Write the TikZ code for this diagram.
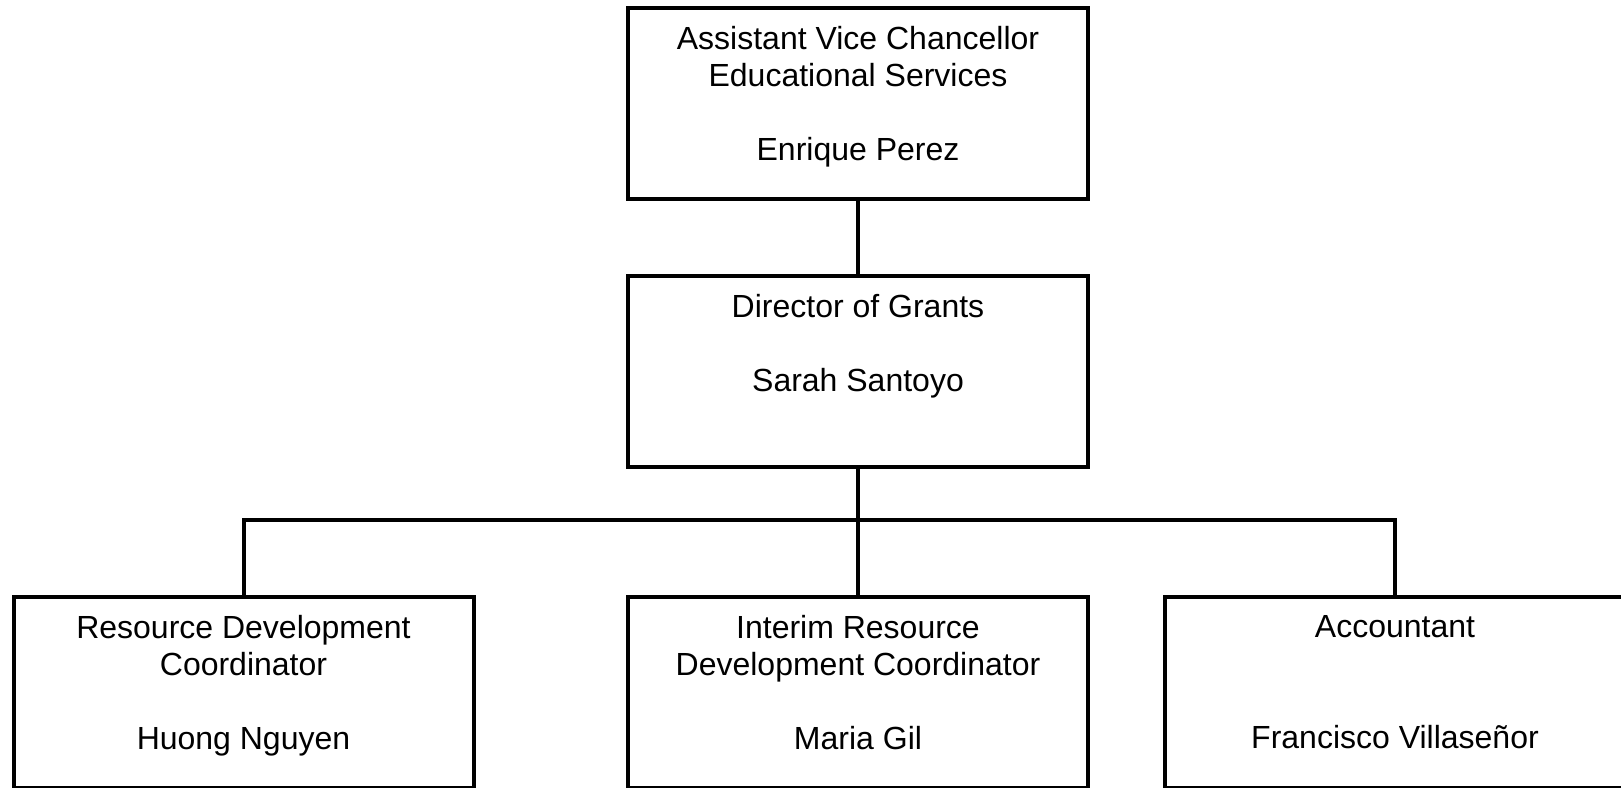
\documentclass[tikz,border=0pt]{standalone}
\usepackage{fontspec}
\setmainfont{Liberation Sans}
\begin{document}
\begin{tikzpicture}[x=0.75pt,y=-0.75pt,
  box/.style={draw=black,line width=3pt,minimum width=345pt,minimum height=143.25pt,inner sep=0pt,outer sep=0pt},
  txt/.style={anchor=north,align=center,inner sep=0pt,font=\fontsize{24pt}{27.75pt}\selectfont},
  wire/.style={line width=3pt}]
\useasboundingbox (0,0) rectangle (1621,788);
\clip (0,0) rectangle (1621,788);
% boxes
\node[box] (avc) at (858,103.5) {};
\node[box] (dir) at (858,371.5) {};
\node[box] (rdc) at (243.5,692.5) {};
\node[box] (ird) at (858,692.5) {};
\node[box] (acc) at (1395,692.5) {};
% box texts
\node[txt] (avct) at ([yshift=-13.5pt]avc.north) {Assistant Vice Chancellor\\Educational Services\\[27.75pt]Enrique Perez};
\node[txt] (dirt) at ([yshift=-13.5pt]dir.north) {Director of Grants\\[27.75pt]Sarah Santoyo};
\node[txt] (rdct) at ([yshift=-13.5pt]rdc.north) {Resource Development\\Coordinator\\[27.75pt]Huong Nguyen};
\node[txt] (irdt) at ([yshift=-13.5pt]ird.north) {Interim Resource\\Development Coordinator\\[27.75pt]Maria Gil};
\node[txt] (acct) at ([yshift=-13.5pt]acc.north) {Accountant\\[55.5pt]Francisco Villaseñor};
% connectors
\coordinate (bus) at (858,519.5);
\draw[wire] (avc.south) -- (dir.north);
\draw[wire] (dir.south) -- (ird.north);
\draw[wire] (rdc.north) |- (bus) -| (acc.north);
\end{tikzpicture}
\end{document}
